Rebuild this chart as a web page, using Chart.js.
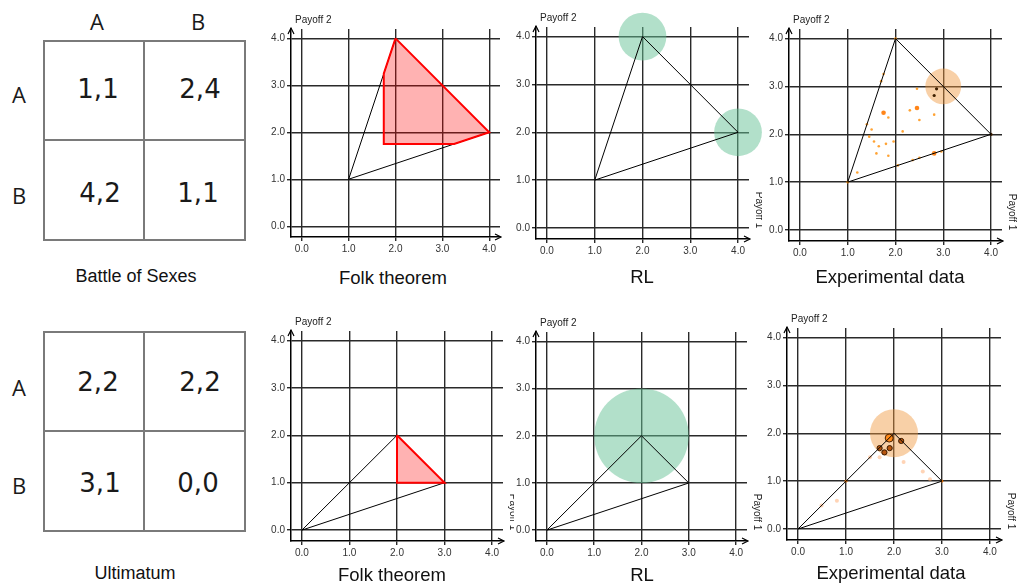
<!DOCTYPE html>
<html><head><meta charset="utf-8">
<script src="https://cdn.jsdelivr.net/npm/chart.js@4.4.1/dist/chart.umd.min.js"></script>
<style>
html,body{margin:0;padding:0;background:#fff;}
body{width:1017px;height:585px;overflow:hidden;position:relative;font-family:"Liberation Sans",Arial,sans-serif;}
canvas{position:absolute;}
.t{position:absolute;transform:translate(-50%,-50%);white-space:nowrap;color:#111;line-height:1;}
.box{position:absolute;border:2px solid #7a7a7a;box-sizing:border-box;}
.ln{position:absolute;background:#7a7a7a;}
</style>
</head><body>
<script>
// ---------------- data ----------------
const tickValues = [0, 1, 2, 3, 4];
const tickLabels = ['0.0', '1.0', '2.0', '3.0', '4.0'];
const axisLabelX = 'Payoff 1';
const axisLabelY = 'Payoff 2';

const gameNames = ['Battle of Sexes', 'Ultimatum'];
const panelTitles = ['Folk theorem', 'RL', 'Experimental data'];
const strategyLabels = ['A', 'B'];
const bosPayoffs = ['1,1', '2,4', '4,2', '1,1'];
const ultPayoffs = ['2,2', '2,2', '3,1', '0,0'];

// feasible-payoff triangles
const bosTriangleX = [1, 2, 4, 1];
const bosTriangleY = [1, 4, 2, 1];
const ultTriangleX = [0, 2, 3, 0];
const ultTriangleY = [0, 2, 1, 0];

// folk theorem regions
const bosFolkX = [2, 4, 3.25, 1.75, 1.75, 2];
const bosFolkY = [4, 2, 1.75, 1.75, 3.25, 4];
const ultFolkX = [2, 3, 2, 2];
const ultFolkY = [2, 1, 1, 2];

// RL outcomes (centre and radius in payoff units)
const bosRLX = [2, 4];
const bosRLY = [4, 2];
const bosRLR = [0.5, 0.5];
const ultRLX = [2];
const ultRLY = [2];
const ultRLR = [1.0];

// experimental data
const bosExpCX = [3], bosExpCY = [3], bosExpCR = [0.375];
const bosSmallX = [1.75, 1.70, 2.45, 1.85, 2.30, 2.50, 2.81, 1.40, 1.50, 2.15, 1.45, 1.55, 1.80, 1.96, 1.65, 1.60, 1.85, 2.96, 2.50, 2.36, 2.05, 1.20, 1.00, 2.00];
const bosSmallY = [3.26, 3.11, 2.95, 2.35, 2.50, 2.30, 2.41, 2.21, 2.10, 2.06, 1.95, 1.85, 1.80, 1.85, 1.75, 1.60, 1.55, 1.64, 1.51, 1.46, 1.35, 1.20, 1.00, 4.00];
const bosLargeX = [1.75, 2.45, 2.81];
const bosLargeY = [2.45, 2.55, 1.60];
const bosDarkX = [2.86, 2.81, 4.00];
const bosDarkY = [2.95, 2.81, 2.00];

const ultExpCX = [2], ultExpCY = [2], ultExpCR = [0.5];
const ultBigX = [1.90], ultBigY = [1.90];
const ultMidX = [2.15, 1.70, 1.91, 1.80];
const ultMidY = [1.84, 1.69, 1.69, 1.60];
const ultFaintX = [1.50, 1.70, 2.20, 2.60, 2.75, 0.81, 0.49];
const ultFaintY = [1.50, 1.50, 1.40, 1.20, 1.04, 0.59, 0.49];
const ultVertexX = [1, 3];
const ultVertexY = [1, 1];

// ---------------- helpers ----------------
const pts = (xs, ys) => xs.map((x, i) => ({x, y: ys[i]}));
const fmt = v => { const i = tickValues.indexOf(v); return i >= 0 ? tickLabels[i] : ''; };

function addText(txt, x, y, css) {
  const d = document.createElement('div');
  d.className = 't'; d.textContent = txt;
  d.style.left = x + 'px'; d.style.top = y + 'px';
  Object.assign(d.style, css || {});
  document.body.appendChild(d);
}

function payoffTable(top, showCols, payoffs, rowYs, cellXs) {
  const L = 43, T = top, W = 203, H = 201;
  const b = document.createElement('div');
  b.className = 'box';
  Object.assign(b.style, {left: L + 'px', top: T + 'px', width: W + 'px', height: H + 'px'});
  document.body.appendChild(b);
  const v = document.createElement('div'); v.className = 'ln';
  Object.assign(v.style, {left: '143px', top: T + 'px', width: '2px', height: H + 'px'});
  document.body.appendChild(v);
  const h = document.createElement('div'); h.className = 'ln';
  Object.assign(h.style, {left: L + 'px', top: (T + 99) + 'px', width: W + 'px', height: '2px'});
  document.body.appendChild(h);
  const lab = {fontFamily: '"Open Sans",sans-serif', fontSize: '22px', color: '#1a1a1a'};
  const num = {fontFamily: '"DejaVu Sans",sans-serif', fontSize: '26px', color: '#1a1a1a'};
  if (showCols) {
    addText(strategyLabels[0], 97, top - 19, lab);
    addText(strategyLabels[1], 198, top - 19, lab);
  }
  addText(strategyLabels[0], 19, rowYs[0] + 5, lab);
  addText(strategyLabels[1], 19, rowYs[1] + 2, lab);
  payoffs.forEach((p, i) => addText(p, cellXs[i], rowYs[Math.floor(i / 2)], num));
}

// decoration plugin: axis arrows and axis captions
const decor = {
  id: 'decor',
  afterDraw(chart) {
    const {ctx, chartArea: a} = chart;
    ctx.save();
    ctx.strokeStyle = '#000'; ctx.lineWidth = 1.2;
    ctx.beginPath();
    ctx.moveTo(a.left - 3, a.top + 5); ctx.lineTo(a.left, a.top - 1); ctx.lineTo(a.left + 3, a.top + 5);
    ctx.moveTo(a.right - 5, a.bottom - 3); ctx.lineTo(a.right + 1, a.bottom); ctx.lineTo(a.right - 5, a.bottom + 3);
    ctx.stroke();
    ctx.fillStyle = '#222';
    ctx.font = '10px "Liberation Sans", Arial, sans-serif';
    ctx.textBaseline = 'middle'; ctx.textAlign = 'left';
    ctx.fillText(axisLabelY, a.left + 4, a.top - 9);
    ctx.translate(a.right + 10, a.bottom - 29);
    ctx.rotate(Math.PI / 2);
    ctx.textAlign = 'center';
    ctx.fillText(axisLabelX, 0, 0);
    ctx.restore();
  }
};

function makePanel(area, padR, datasets) {
  const padL = 40, padT = 30, padB = 26;
  const W = area.w + padL + padR, H = area.h + padT + padB;
  const c = document.createElement('canvas');
  c.width = W; c.height = H;
  Object.assign(c.style, {left: (area.l - padL) + 'px', top: (area.t - padT) + 'px', width: W + 'px', height: H + 'px'});
  document.body.appendChild(c);
  const axis = (minV, maxV, fit) => ({
    type: 'linear', min: minV, max: maxV,
    afterFit: fit,
    afterBuildTicks: s => { s.ticks = tickValues.map(v => ({value: v})); },
    grid: {color: '#2a2a2a', lineWidth: 1.4, tickLength: 4, drawTicks: true},
    border: {color: '#000', width: 1.5},
    ticks: {font: {size: 10, family: '"Liberation Sans", Arial, sans-serif'}, color: '#333', padding: 2,
            callback: v => fmt(v), maxRotation: 0, autoSkip: false}
  });
  new Chart(c, {
    type: 'scatter',
    data: {datasets},
    options: {
      responsive: false, animation: false, devicePixelRatio: 1, events: [],
      layout: {padding: {left: 0, top: padT, right: padR, bottom: 0}},
      plugins: {legend: {display: false}, tooltip: {enabled: false}},
      scales: {
        x: axis(-0.23, 4.23, s => { s.height = padB; }),
        y: axis(-0.23, 4.2, s => { s.width = padL; })
      }
    },
    plugins: [decor]
  });
}

const triangle = (xs, ys) => ({data: pts(xs, ys), showLine: true, borderColor: '#000', borderWidth: 1,
  pointRadius: 0, fill: false, tension: 0, order: 1, clip: false});
const folk = (xs, ys) => ({data: pts(xs, ys), showLine: true, borderColor: '#ff0000', borderWidth: 2,
  backgroundColor: 'rgba(255,0,0,0.3)', fill: 'shape', pointRadius: 0, tension: 0, order: 0});
const blob = (xs, ys, rs, color) => ({data: pts(xs, ys), showLine: false, clip: false, order: 5,
  pointRadius: ctx => { const s = ctx.chart.scales.x; const r = rs[ctx.dataIndex] || 0;
    return Math.abs(s.getPixelForValue(r) - s.getPixelForValue(0)); },
  pointBackgroundColor: color, pointBorderWidth: 0, pointHoverRadius: 0});
const dots = (xs, ys, r, bg, border, bw, ord) => ({data: pts(xs, ys), showLine: false, clip: false, order: ord,
  pointRadius: r, pointBackgroundColor: bg, pointBorderColor: border || bg, pointBorderWidth: bw || 0});

const green = 'rgba(102,194,150,0.5)';
const orange = 'rgba(240,150,60,0.45)';

// ---------------- top row: Battle of Sexes ----------------
payoffTable(40, true, bosPayoffs, [89, 193], [98, 200, 100, 198]);
addText(gameNames[0], 136, 276, {fontSize: '18px'});

makePanel({l: 291, t: 29, w: 209, h: 208}, 3, [
  folk(bosFolkX, bosFolkY), triangle(bosTriangleX, bosTriangleY)]);
makePanel({l: 536, t: 27, w: 213, h: 212}, 13, [
  triangle(bosTriangleX, bosTriangleY), blob(bosRLX, bosRLY, bosRLR, green)]);
makePanel({l: 789, t: 29, w: 213, h: 212}, 15, [
  triangle(bosTriangleX, bosTriangleY),
  dots(bosDarkX, bosDarkY, 1.6, '#3d1f00', null, 0, 2),
  dots(bosLargeX, bosLargeY, 2.3, 'rgba(255,120,0,0.9)', null, 0, 3),
  dots(bosSmallX, bosSmallY, 1.3, 'rgba(255,140,0,0.8)', null, 0, 4),
  blob(bosExpCX, bosExpCY, bosExpCR, orange)]);

addText(panelTitles[0], 393, 278, {fontSize: '18.5px'});
addText(panelTitles[1], 642, 277, {fontSize: '18.5px'});
addText(panelTitles[2], 890, 277, {fontSize: '18.5px'});

// ---------------- bottom row: Ultimatum ----------------
payoffTable(331, false, ultPayoffs, [382, 483], [98, 200, 100, 198]);
addText(gameNames[1], 135, 573, {fontSize: '18px'});

makePanel({l: 291, t: 331, w: 212, h: 210}, 11, [
  folk(ultFolkX, ultFolkY), triangle(ultTriangleX, ultTriangleY)]);
makePanel({l: 536, t: 332, w: 211, h: 209}, 18, [
  triangle(ultTriangleX, ultTriangleY), blob(ultRLX, ultRLY, ultRLR, green)]);
makePanel({l: 787, t: 328, w: 214, h: 212}, 16, [
  triangle(ultTriangleX, ultTriangleY),
  dots(ultBigX, ultBigY, 4, '#ff8a1a', '#4a2000', 1, 2),
  dots(ultMidX, ultMidY, 2.6, '#b8560f', '#3a1a00', 1, 2),
  dots(ultVertexX, ultVertexY, 1.4, 'rgba(230,110,0,0.9)', null, 0, 3),
  dots(ultFaintX, ultFaintY, 2, 'rgba(255,170,110,0.5)', null, 0, 4),
  blob(ultExpCX, ultExpCY, ultExpCR, orange)]);

addText(panelTitles[0], 392, 575, {fontSize: '18.5px'});
addText(panelTitles[1], 642, 575, {fontSize: '18.5px'});
addText(panelTitles[2], 891, 573, {fontSize: '18.5px'});
</script>
</body></html>
